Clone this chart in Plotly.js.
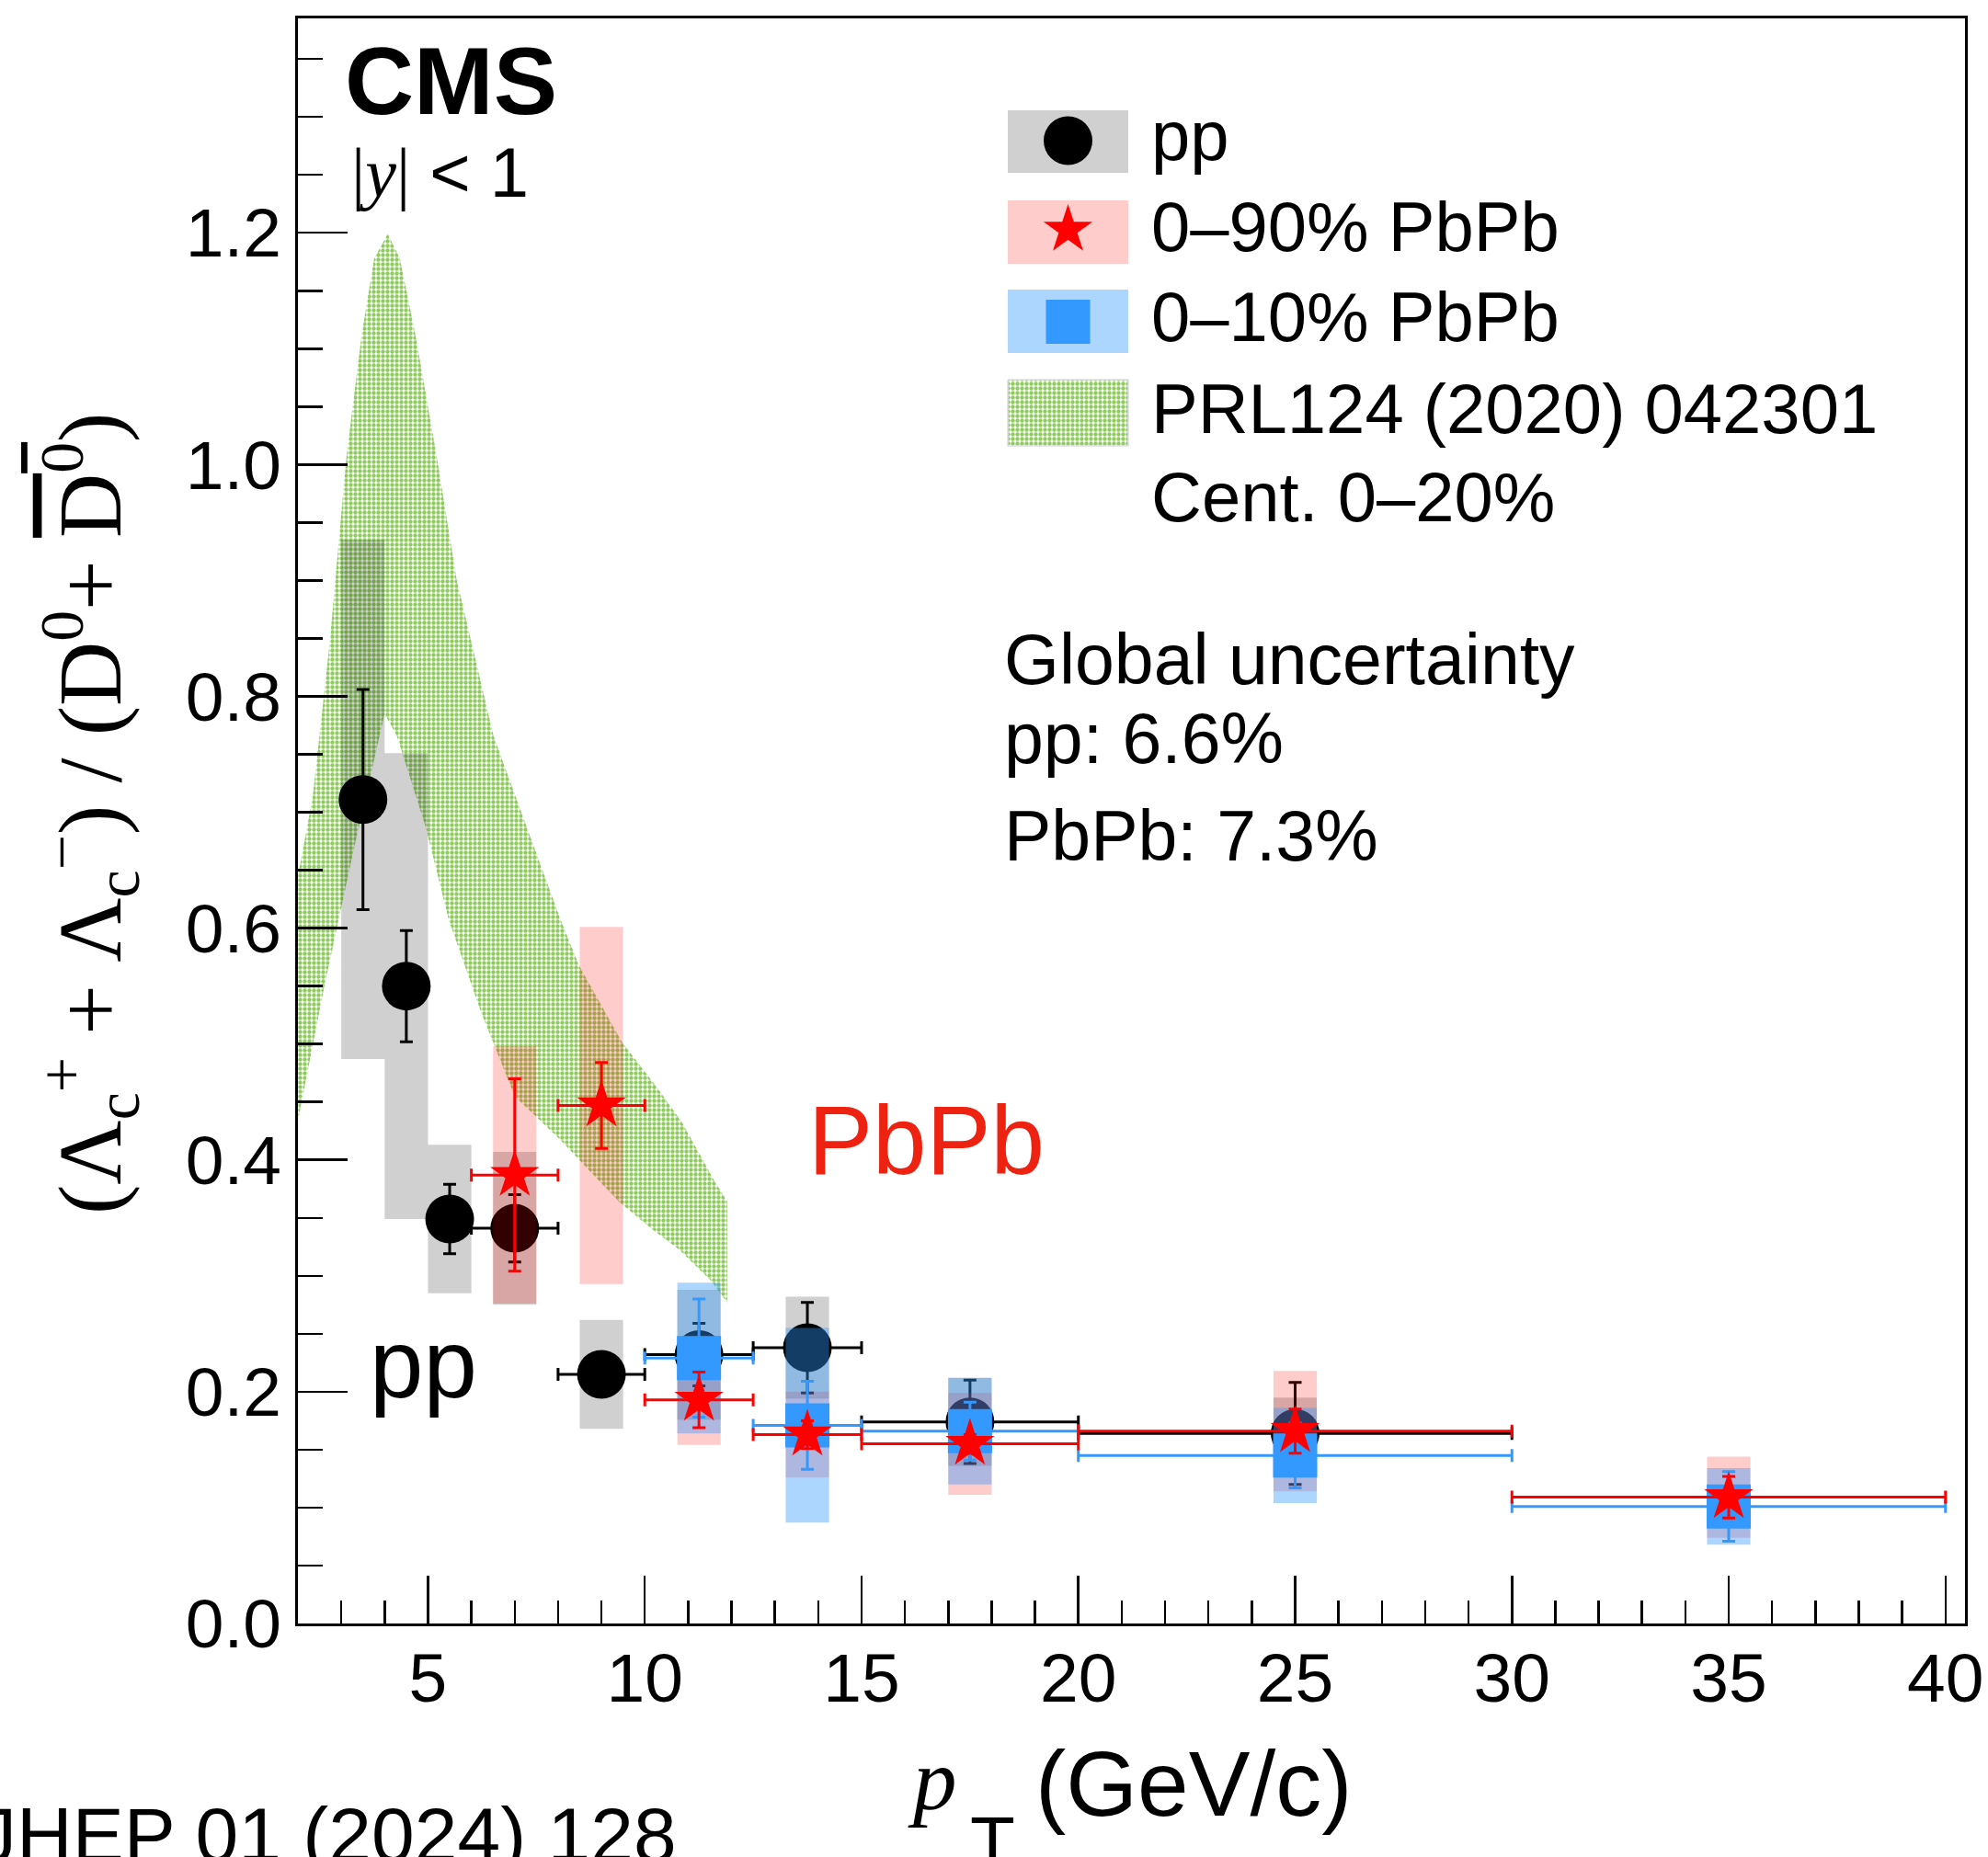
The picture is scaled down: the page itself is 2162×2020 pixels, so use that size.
<!DOCTYPE html>
<html><head><meta charset="utf-8">
<script src="https://cdn.plot.ly/plotly-3.0.1.min.js"></script>
<style>html,body{margin:0;padding:0;background:#fff;} #chart{width:2162px;height:2020px;}</style>
</head><body><div id="chart"></div>
<script>
// ---- pp data ----
const ppX    = [3.5, 4.5, 5.5, 7, 9, 11.25, 13.75, 17.5, 25];
const ppXErr = [0.5, 0.5, 0.5, 1, 1, 1.25, 1.25, 2.5, 5];
const ppY    = [0.711, 0.550, 0.349, 0.341, 0.215, 0.232, 0.238, 0.174, 0.164];
const ppStat = [0.095, 0.048, 0.030, 0.029, 0.015, 0.027, 0.039, 0.036, 0.044];
const ppSyst = [0.224, 0.201, 0.064, 0.066, 0.047, 0.056, 0.044, 0.038, 0.031];
// ---- 0-90% PbPb ----
const pb90X    = [7, 9, 11.25, 13.75, 17.5, 25, 35];
const pb90XErr = [1, 1, 1.25, 1.25, 2.5, 5, 5];
const pb90Y    = [0.387, 0.447, 0.193, 0.163, 0.155, 0.166, 0.109];
const pb90Stat = [0.083, 0.037, 0.024, 0.012, 0.008, 0.019, 0.018];
const pb90Syst = [0.111, 0.154, 0.039, 0.037, 0.044, 0.052, 0.035];
// ---- 0-10% PbPb ----
const pb10X    = [11.25, 13.75, 17.5, 25, 35];
const pb10XErr = [1.25, 1.25, 2.5, 5, 5];
const pb10Y    = [0.229, 0.171, 0.166, 0.145, 0.101];
const pb10Stat = [0.051, 0.038, 0.025, 0.028, 0.030];
const pb10Syst = [0.065, 0.084, 0.046, 0.041, 0.033];
// ---- model band PRL124 (2020) 042301, Cent. 0-20% ----
const bandUpperX = [2.0, 2.34, 2.73, 3.12, 3.47, 3.76, 4.07, 4.35, 4.71, 5.2, 5.66, 6.01, 6.51, 7.28, 8.06, 8.48, 9.47, 10.25, 10.85, 11.59, 11.9];
const bandUpperY = [0.645, 0.713, 0.845, 1.007, 1.112, 1.178, 1.199, 1.178, 1.112, 1.007, 0.901, 0.845, 0.766, 0.687, 0.607, 0.568, 0.502, 0.464, 0.433, 0.383, 0.364];
const bandLowerX = [2.0, 2.61, 3.3, 4.0, 4.28, 4.95, 5.48, 6.22, 7.0, 8.06, 9.40, 10.18, 10.81, 11.52, 11.9];
const bandLowerY = [0.434, 0.55, 0.67, 0.785, 0.766, 0.687, 0.607, 0.528, 0.455, 0.417, 0.364, 0.340, 0.322, 0.296, 0.277];

const xTickVals = [5, 10, 15, 20, 25, 30, 35, 40];
const yTickVals = [0, 0.2, 0.4, 0.6, 0.8, 1.0, 1.2];

// ---- helpers ----
const BOXHALF = 0.5;
function boxes(xs, ys, ss) {
  const bx = [], by = [];
  xs.forEach((x, i) => {
    const lo = ys[i] - ss[i], hi = ys[i] + ss[i];
    bx.push(x - BOXHALF, x + BOXHALF, x + BOXHALF, x - BOXHALF, x - BOXHALF, null);
    by.push(lo, lo, hi, hi, lo, null);
  });
  return {x: bx, y: by};
}
const L = 324, R = 2137, T = 20, B = 1766;
const PX = p => (p - L) / (R - L);
const PY = p => (B - p) / (B - T);

const GREEN = '#8ccb5c';
const bandPattern = {shape: '.', fgcolor: GREEN, bgcolor: 'rgba(0,0,0,0)', size: 5, solidity: 0.6};

const ppBox = boxes(ppX, ppY, ppSyst);
const pb90Box = boxes(pb90X, pb90Y, pb90Syst);
const pb10Box = boxes(pb10X, pb10Y, pb10Syst);

const eb = (arr, color) => ({type: 'data', array: arr, visible: true, color: color, thickness: 3, width: 7});

const traces = [
  { // model band
    x: bandUpperX.concat(bandLowerX.slice().reverse()),
    y: bandUpperY.concat(bandLowerY.slice().reverse()),
    type: 'scatter', mode: 'lines', fill: 'toself', line: {width: 0, color: 'rgba(0,0,0,0)'},
    fillcolor: 'rgba(0,0,0,0)', fillpattern: bandPattern, hoverinfo: 'skip', showlegend: false
  },
  { x: ppBox.x, y: ppBox.y, type: 'scatter', mode: 'lines', fill: 'toself',
    line: {width: 0, color: 'rgba(0,0,0,0)'}, fillcolor: 'rgba(0,0,0,0.184)', hoverinfo: 'skip', showlegend: false },
  { x: ppX, y: ppY, type: 'scatter', mode: 'markers',
    marker: {symbol: 'circle', size: 53, color: '#000000', opacity: 1, line: {width: 0}},
    error_x: eb(ppXErr, '#000000'), error_y: eb(ppStat, '#000000'), showlegend: false },
  { x: pb90Box.x, y: pb90Box.y, type: 'scatter', mode: 'lines', fill: 'toself',
    line: {width: 0, color: 'rgba(0,0,0,0)'}, fillcolor: 'rgba(255,0,0,0.2)', hoverinfo: 'skip', showlegend: false },
  { x: pb10Box.x, y: pb10Box.y, type: 'scatter', mode: 'lines', fill: 'toself',
    line: {width: 0, color: 'rgba(0,0,0,0)'}, fillcolor: 'rgba(51,153,255,0.4)', hoverinfo: 'skip', showlegend: false },
  { x: pb10X, y: pb10Y, type: 'scatter', mode: 'markers',
    marker: {symbol: 'square', size: 48, color: '#3399ff', opacity: 1, line: {width: 0}},
    error_x: eb(pb10XErr, '#3399ff'), error_y: eb(pb10Stat, '#3399ff'), showlegend: false },
  { x: pb90X, y: pb90Y, type: 'scatter', mode: 'markers',
    marker: {symbol: 'star', size: 40, color: '#ff0000', opacity: 1, line: {width: 0}},
    error_x: eb(pb90XErr, '#ff0000'), error_y: eb(pb90Stat, '#ff0000'), showlegend: false },
];

// ---- legend (pixel-space overlay axes) ----
const legX0 = 1096, legX1 = 1227, legMX = 1161.5;
const legRows = [[120, 188], [218, 287], [315, 384], [413, 485]];
const legFills = ['rgba(0,0,0,0.184)', 'rgba(255,0,0,0.2)', 'rgba(51,153,255,0.4)', null];
legRows.forEach((r, i) => {
  const t = {x: [legX0, legX1, legX1, legX0, legX0], y: [r[0], r[0], r[1], r[1], r[0]],
    xaxis: 'x2', yaxis: 'y2', type: 'scatter', mode: 'lines', fill: 'toself', hoverinfo: 'skip', showlegend: false};
  if (legFills[i]) { t.fillcolor = legFills[i]; t.line = {width: 0, color: 'rgba(0,0,0,0)'}; }
  else { t.fillcolor = 'rgba(0,0,0,0)'; t.fillpattern = bandPattern; t.line = {width: 1.5, color: '#dddddd'}; }
  traces.push(t);
});
traces.push({x: [legMX, legMX, legMX], y: [153, 250, 350], xaxis: 'x2', yaxis: 'y2', type: 'scatter', mode: 'markers',
  marker: {symbol: ['circle', 'star', 'square'], size: [53, 40, 48], color: ['#000000', '#ff0000', '#3399ff'], opacity: 1, line: {width: 0}},
  hoverinfo: 'skip', showlegend: false});

const SANS = 'Liberation Sans, Arial, sans-serif';
const SERIF = 'Liberation Serif, Times New Roman, serif';
function ann(text, px, py, size, opts) {
  return Object.assign({text: text, x: PX(px), y: PY(py), xref: 'paper', yref: 'paper', xanchor: 'left', yanchor: 'middle',
    showarrow: false, font: {family: SANS, size: size, color: '#000000'}}, opts || {});
}
const annotations = [
  ann('<b>CMS</b>', 373, 88, 104),
  ann('<span style="font-family:Liberation Serif">|<i>y</i>|</span> < 1', 380, 187, 76),
  ann('pp', 1250, 148, 76),
  ann('0–90% PbPb', 1250, 246.5, 76),
  ann('0–10% PbPb', 1250, 344, 76),
  ann('PRL124 (2020) 042301', 1250, 444.5, 76),
  ann('Cent. 0–20%', 1250, 540.7, 76),
  ann('Global uncertainty', 1090, 717, 77),
  ann('pp: 6.6%', 1090, 803, 77),
  ann('PbPb: 7.3%', 1090, 909.5, 77),
  ann('PbPb', 877, 1240.5, 105, {font: {family: SANS, size: 105, color: '#ee2211'}}),
  ann('pp', 400, 1483, 105),
  ann('<i>p</i>', 985, 1936, 95, {font: {family: SERIF, size: 95, color: '#000000'}}),
  ann('T', 1053, 2004, 80),
  ann('(GeV/c)', 1124, 1940, 100),
  ann('JHEP 01 (2024) 128', -26, 1996, 84),
  ann('(Λ<sub>c</sub><sup>+</sup> + Λ<sub>c</sub><sup>−</sup>) / (D<sup>0</sup>+ <span style="text-decoration:overline">D<sup>0</sup></span>)',
      97, 885, 97, {xanchor: 'center', yanchor: 'middle', textangle: -90, font: {family: SERIF, size: 97, color: '#000000'}})
];

const axisCommon = {showline: true, linecolor: '#000000', linewidth: 3, mirror: true, showgrid: false, zeroline: false,
  ticks: 'inside', tickcolor: '#000000', tickwidth: 2.5, tickfont: {family: SANS, size: 75, color: '#000000'}};

const layout = {
  width: 2162, height: 2020,
  margin: {l: L, r: 2162 - R, t: T, b: 2020 - B, pad: 0},
  paper_bgcolor: '#ffffff', plot_bgcolor: '#ffffff',
  showlegend: false,
  xaxis: Object.assign({}, axisCommon, {range: [2, 40.45], tickmode: 'array', tickvals: xTickVals, ticktext: xTickVals.map(String),
    ticklen: 52, ticklabelstandoff: -8,
    minor: {ticks: 'inside', dtick: 1, tick0: 0, ticklen: 25, tickwidth: 2.5, tickcolor: '#000000', showgrid: false}}),
  yaxis: Object.assign({}, axisCommon, {range: [0, 1.385], tickmode: 'array', tickvals: yTickVals, ticktext: yTickVals.map(v => v.toFixed(1)),
    ticklen: 54, minor: {ticks: 'inside', dtick: 0.05, tick0: 0, ticklen: 27, tickwidth: 2.5, tickcolor: '#000000', showgrid: false}}),
  xaxis2: {overlaying: 'x', range: [L, R], visible: false, fixedrange: true},
  yaxis2: {overlaying: 'y', range: [B, T], visible: false, fixedrange: true},
  annotations: annotations
};

Plotly.newPlot('chart', traces, layout, {staticPlot: true, displayModeBar: false});
</script>
</body></html>
